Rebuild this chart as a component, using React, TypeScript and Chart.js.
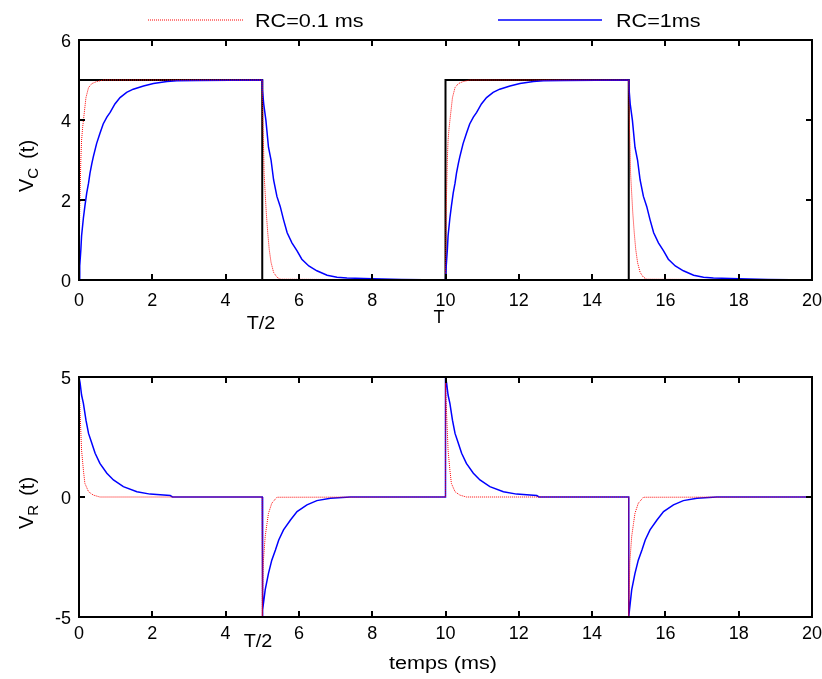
import { useEffect, useRef } from 'react';
import { Chart, registerables } from 'chart.js';

Chart.register(...registerables);

// ---------- data (time in ms, voltage in V) ----------
const periodStarts = [0, 10];
const xTicks = [0, 2, 4, 6, 8, 10, 12, 14, 16, 18, 20];
const yTicksTop = [0, 2, 4, 6];
const yTicksBottom = [-5, 0, 5];

// square wave (input)
const squareT = [0, 0, 5, 5, 10, 10, 15, 15, 20];
const squareV = [0, 5, 5, 0, 0, 5, 5, 0, 0];

// V_C, RC = 1 ms (blue)
const vcSlowChargeT = [0, 0.02, 0.05, 0.07, 0.12, 0.16, 0.21, 0.26, 0.3, 0.35, 0.39, 0.48, 0.57, 0.66, 0.76, 0.85, 0.98, 1.12, 1.3, 1.48, 1.76, 2.03, 2.4, 2.67, 3.22, 5.0];
const vcSlowChargeV = [0, 0.35, 0.75, 1.1, 1.55, 1.84, 2.17, 2.42, 2.67, 2.91, 3.08, 3.41, 3.66, 3.9, 4.07, 4.19, 4.4, 4.56, 4.69, 4.77, 4.85, 4.91, 4.96, 4.98, 4.99, 5.0];
const vcSlowDischargeT = [5.0, 5.01, 5.04, 5.1, 5.17, 5.24, 5.31, 5.4, 5.49, 5.58, 5.68, 5.81, 5.95, 6.08, 6.27, 6.49, 6.77, 7.04, 7.31, 8.0, 8.8, 10.0];
const vcSlowDischargeV = [5.0, 4.75, 4.4, 3.99, 3.32, 3.0, 2.5, 2.09, 1.84, 1.51, 1.18, 0.93, 0.73, 0.52, 0.35, 0.23, 0.12, 0.07, 0.05, 0.03, 0.01, 0.0];

// V_C, RC = 0.1 ms (red)
const vcFastChargeT = [0, 0.02, 0.05, 0.07, 0.1, 0.14, 0.19, 0.26, 0.35, 0.48, 0.66, 5.0];
const vcFastChargeV = [0, 1.8, 3.0, 3.49, 3.82, 4.15, 4.56, 4.81, 4.91, 4.96, 5.0, 5.0];
const vcFastDischargeT = [5.0, 5.01, 5.02, 5.04, 5.05, 5.08, 5.11, 5.15, 5.19, 5.24, 5.31, 5.4, 5.49, 10.0];
const vcFastDischargeV = [5.0, 4.23, 3.82, 3.16, 2.67, 2.17, 1.68, 1.18, 0.77, 0.44, 0.19, 0.07, 0.02, 0];

// V_R, RC = 1 ms (blue)
const vrSlowChargeT = [0, 0.03, 0.07, 0.12, 0.19, 0.26, 0.35, 0.44, 0.57, 0.76, 0.94, 1.21, 1.58, 1.94, 2.49, 2.55, 5.0];
const vrSlowChargeV = [5.0, 4.75, 4.25, 3.9, 3.2, 2.65, 2.24, 1.82, 1.4, 0.99, 0.71, 0.43, 0.22, 0.12, 0.06, 0, 0];
const vrSlowDischargeT = [5.0, 5.02, 5.08, 5.17, 5.26, 5.36, 5.45, 5.58, 5.77, 5.95, 6.22, 6.49, 6.86, 7.4, 10.0];
const vrSlowDischargeV = [-5.0, -4.7, -3.87, -3.18, -2.63, -2.21, -1.79, -1.37, -0.96, -0.61, -0.33, -0.15, -0.05, 0, 0];

// V_R, RC = 0.1 ms (red)
const vrFastChargeT = [0, 0.01, 0.03, 0.07, 0.12, 0.16, 0.26, 0.39, 0.57, 5.0];
const vrFastChargeV = [5.0, 4.3, 3.49, 1.96, 1.12, 0.57, 0.22, 0.08, 0, 0];
const vrFastDischargeT = [5.0, 5.01, 5.03, 5.08, 5.13, 5.17, 5.26, 5.4, 10.0];
const vrFastDischargeV = [-5.0, -4.3, -2.7, -1.65, -1.1, -0.68, -0.26, -0.01, 0];

const labelFast = 'RC=0.1 ms';
const labelSlow = 'RC=1ms';

// ---------- helpers ----------
type Pt = { x: number; y: number };

function periodic(chT: number[], chV: number[], dcT: number[], dcV: number[]): Pt[] {
  const pts: Pt[] = [];
  for (const p of periodStarts) {
    chT.forEach((t, i) => pts.push({ x: p + t, y: chV[i] }));
    dcT.forEach((t, i) => pts.push({ x: p + t, y: dcV[i] }));
  }
  return pts;
}

function pairs(t: number[], v: number[]): Pt[] {
  return t.map((x, i) => ({ x, y: v[i] }));
}

const FONT = '"Liberation Sans", Arial, Helvetica, sans-serif';
const RED = 'rgb(255,0,0)';
const BLUE = 'rgb(0,0,255)';

function drawText(
  ctx: CanvasRenderingContext2D,
  text: string,
  x: number,
  y: number,
  size: number,
  align: 'left' | 'center' | 'right',
  sx = 1
) {
  ctx.save();
  ctx.font = `${size}px ${FONT}`;
  ctx.textBaseline = 'alphabetic';
  ctx.textAlign = 'left';
  ctx.fillStyle = '#000';
  const w = ctx.measureText(text).width * sx;
  const left = align === 'center' ? x - w / 2 : align === 'right' ? x - w : x;
  ctx.translate(left, y);
  ctx.scale(sx, 1);
  ctx.fillText(text, 0, 0);
  ctx.restore();
}

function drawYLabel(
  ctx: CanvasRenderingContext2D,
  main: string,
  sub: string,
  rest: string,
  baseX: number,
  startY: number
) {
  ctx.save();
  ctx.translate(baseX, startY);
  ctx.rotate(-Math.PI / 2);
  ctx.fillStyle = '#000';
  ctx.textBaseline = 'alphabetic';
  ctx.textAlign = 'left';
  ctx.font = `20px ${FONT}`;
  ctx.fillText(main, 0, 0);
  let x = ctx.measureText(main).width;
  ctx.font = `15px ${FONT}`;
  ctx.fillText(sub, x, 5);
  x += ctx.measureText(sub).width + 9;
  ctx.font = `20px ${FONT}`;
  ctx.fillText(rest, x, 1);
  ctx.restore();
}

interface Decor {
  yTicks: number[];
  xLabelBaseline: number;
  yLabel: { main: string; sub: string; rest: string; baseX: number; startY: number };
  notes: { text: string; x: number; y: number; sx: number }[];
  legend: boolean;
}

function decorPlugin(d: Decor) {
  return {
    id: 'decor',
    afterDraw(chart: any) {
      const ctx: CanvasRenderingContext2D = chart.ctx;
      const { left, right, top, bottom } = chart.chartArea;
      const xs = chart.scales.x;
      const ys = chart.scales.y;
      ctx.save();
      ctx.strokeStyle = '#000';
      ctx.lineWidth = 2;
      ctx.strokeRect(left, top, right - left, bottom - top);
      ctx.beginPath();
      const tl = 6;
      for (const v of xTicks) {
        const px = Math.round(xs.getPixelForValue(v));
        ctx.moveTo(px, bottom);
        ctx.lineTo(px, bottom - tl);
        ctx.moveTo(px, top);
        ctx.lineTo(px, top + tl);
      }
      for (const v of d.yTicks) {
        const py = Math.round(ys.getPixelForValue(v));
        ctx.moveTo(left, py);
        ctx.lineTo(left + tl, py);
        ctx.moveTo(right, py);
        ctx.lineTo(right - tl, py);
      }
      ctx.stroke();
      ctx.restore();

      for (const v of xTicks) {
        drawText(ctx, String(v), xs.getPixelForValue(v), d.xLabelBaseline, 18, 'center');
      }
      for (const v of d.yTicks) {
        drawText(ctx, String(v), left - 8, ys.getPixelForValue(v) + 6.5, 18, 'right');
      }
      drawYLabel(ctx, d.yLabel.main, d.yLabel.sub, d.yLabel.rest, d.yLabel.baseX, d.yLabel.startY);
      for (const n of d.notes) drawText(ctx, n.text, n.x, n.y, 18, 'center', n.sx);

      if (d.legend) {
        const ds = chart.data.datasets;
        const items = [
          { ds: ds[0], x0: 148, x1: 244, tx: 255 },
          { ds: ds[1], x0: 498, x1: 602, tx: 616 },
        ];
        for (const it of items) {
          ctx.save();
          ctx.strokeStyle = it.ds.borderColor;
          ctx.lineWidth = it.ds.borderWidth;
          ctx.setLineDash(it.ds.borderDash || []);
          ctx.beginPath();
          ctx.moveTo(it.x0, 20);
          ctx.lineTo(it.x1, 20);
          ctx.stroke();
          ctx.restore();
          drawText(ctx, it.ds.label, it.tx, 26.5, 18, 'left', 1.2);
        }
      }
    },
  };
}

function baseOptions(yMin: number, yMax: number, top: number, bottom: number) {
  return {
    responsive: false,
    animation: false as const,
    devicePixelRatio: 1,
    events: [],
    layout: { padding: { left: 79, right: 10, top, bottom: 679 - bottom } },
    plugins: { legend: { display: false }, tooltip: { enabled: false } },
    elements: { point: { radius: 0 }, line: { tension: 0 } },
    scales: {
      x: { type: 'linear' as const, min: 0, max: 20, display: false },
      y: { type: 'linear' as const, min: yMin, max: yMax, display: false },
    },
  };
}

export default function App() {
  const topRef = useRef<HTMLCanvasElement>(null);
  const botRef = useRef<HTMLCanvasElement>(null);

  useEffect(() => {
    const top = new Chart(topRef.current as HTMLCanvasElement, {
      type: 'line',
      data: {
        datasets: [
          {
            label: labelFast,
            data: periodic(vcFastChargeT, vcFastChargeV, vcFastDischargeT, vcFastDischargeV),
            borderColor: RED,
            borderWidth: 1,
            borderDash: [1, 1],
          },
          {
            label: labelSlow,
            data: periodic(vcSlowChargeT, vcSlowChargeV, vcSlowDischargeT, vcSlowDischargeV),
            borderColor: BLUE,
            borderWidth: 1.5,
          },
          {
            label: 'input',
            data: pairs(squareT, squareV),
            borderColor: '#000',
            borderWidth: 2,
          },
        ],
      },
      options: baseOptions(0, 6, 40, 280) as any,
      plugins: [
        decorPlugin({
          yTicks: yTicksTop,
          xLabelBaseline: 306,
          yLabel: { main: 'V', sub: 'C', rest: '(t)', baseX: 33, startY: 192 },
          notes: [
            { text: 'T/2', x: 261, y: 329, sx: 1.1 },
            { text: 'T', x: 439, y: 323, sx: 1 },
          ],
          legend: true,
        }),
      ],
    });

    const bottom = new Chart(botRef.current as HTMLCanvasElement, {
      type: 'line',
      data: {
        datasets: [
          {
            label: labelFast,
            data: periodic(vrFastChargeT, vrFastChargeV, vrFastDischargeT, vrFastDischargeV),
            borderColor: RED,
            borderWidth: 1,
            borderDash: [1, 1],
          },
          {
            label: labelSlow,
            data: periodic(vrSlowChargeT, vrSlowChargeV, vrSlowDischargeT, vrSlowDischargeV),
            borderColor: BLUE,
            borderWidth: 1.5,
          },
        ],
      },
      options: baseOptions(-5, 5, 377, 617) as any,
      plugins: [
        decorPlugin({
          yTicks: yTicksBottom,
          xLabelBaseline: 639,
          yLabel: { main: 'V', sub: 'R', rest: '(t)', baseX: 33, startY: 529 },
          notes: [
            { text: 'T/2', x: 258, y: 647, sx: 1.1 },
            { text: 'temps (ms)', x: 443, y: 669, sx: 1.2 },
          ],
          legend: false,
        }),
      ],
    });

    return () => {
      top.destroy();
      bottom.destroy();
    };
  }, []);

  const cs: React.CSSProperties = { position: 'absolute', left: 0, top: 0, width: 822, height: 679 };
  return (
    <div style={{ position: 'absolute', left: 0, top: 0, width: 822, height: 679, background: '#fff' }}>
      <canvas ref={topRef} width={822} height={679} style={cs} />
      <canvas ref={botRef} width={822} height={679} style={cs} />
    </div>
  );
}
